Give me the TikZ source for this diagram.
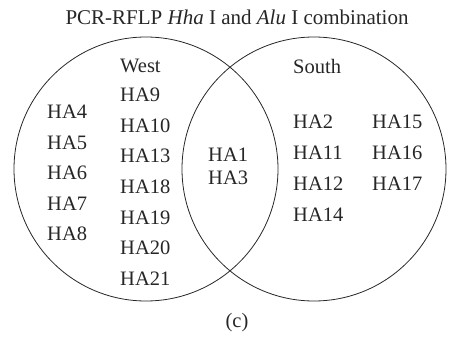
\documentclass[tikz,border=0pt]{standalone}
\usepackage{fontspec}
\setmainfont{Liberation Serif}
\usetikzlibrary{positioning}

\begin{document}
\begin{tikzpicture}[x=1pt, y=-1pt,
    setc/.style={circle, draw=black!85, line width=0.8pt, minimum size=264pt, inner sep=0pt},
    lbl/.style={anchor=west, inner sep=0pt, text=black!85, font=\fontsize{20.5}{24}\selectfont}
]
    \useasboundingbox (0,0) rectangle (451,338);
    % the two sets
    \node[setc] (wset) at (146,169) {};
    \node[setc] (sset) at (314,169) {};
    % title and caption
    \node[lbl, anchor=base, font=\fontsize{21}{24}\selectfont] (title) at (237,24) {PCR-RFLP \textit{Hha} I and \textit{Alu} I combination};
    \node[lbl, anchor=center] (cap) at (237,323) {(c)};
    % West only
    \node[lbl] (west) at (120,66) {West};
    \foreach \t [count=\i] in {HA4,HA5,HA6,HA7,HA8}
        \node[lbl] (wa\i) at (47,{112+30.5*(\i-1)}) {\t};
    \foreach \t [count=\i] in {HA9,HA10,HA13,HA18,HA19,HA20,HA21}
        \node[lbl] (wb\i) at (120,{95+30.6*(\i-1)}) {\t};
    % shared
    \node[lbl] (ha1) at (208,155) {HA1};
    \node[lbl] (ha3) at (208,178) {HA3};
    % South only
    \node[lbl] (south) at (293,66) {South};
    \foreach \t [count=\i] in {HA2,HA11,HA12,HA14}
        \node[lbl] (sa\i) at (293,{122+30.8*(\i-1)}) {\t};
    \foreach \t [count=\i] in {HA15,HA16,HA17}
        \node[lbl] (sb\i) at (372,{122+30.8*(\i-1)}) {\t};
\end{tikzpicture}
\end{document}
